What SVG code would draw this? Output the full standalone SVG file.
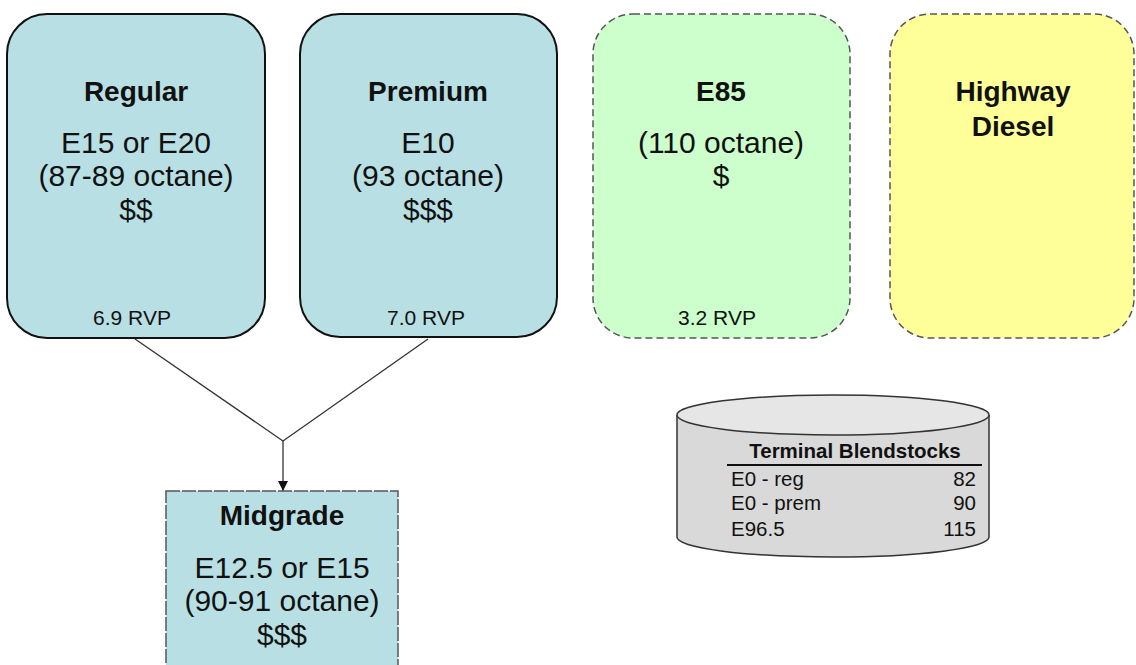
<svg xmlns="http://www.w3.org/2000/svg" width="1136" height="665" viewBox="0 0 1136 665">
<defs>
<style>
.t{font-family:"Liberation Sans",Arial,sans-serif;fill:#111;text-anchor:middle}
.h{font-size:28px;font-weight:bold}
.b{font-size:30px}
.s{font-size:21px}
.blue{fill:#b8e0e4;stroke:#111;stroke-width:2}
.dash{stroke:#555;stroke-width:1.5;stroke-dasharray:7 4}
.c{fill:none;stroke:#333;stroke-width:1.3}
.tb{font-family:"Liberation Sans",Arial,sans-serif;font-size:20.5px;fill:#111}
</style>
<marker id="arr" viewBox="0 0 10 10" refX="10" refY="5" markerWidth="10" markerHeight="10" markerUnits="userSpaceOnUse" orient="auto">
<path d="M0,0 L10,5 L0,10 Z" fill="#111"/>
</marker>
</defs>
<rect width="1136" height="665" fill="#fff"/>
<g id="connectors">
<polyline class="c" points="135,339 283,441 428,339"/>
<line class="c" x1="283" y1="441" x2="283" y2="491" marker-end="url(#arr)"/>
</g>
<g id="regular">
<rect class="blue" x="7" y="14" width="258" height="324" rx="40"/>
<text class="t h" x="136" y="101">Regular</text>
<text class="t b" x="136" y="153">E15 or E20</text>
<text class="t b" x="136" y="186">(87-89 octane)</text>
<text class="t b" x="136" y="220">$$</text>
<text class="t s" x="132" y="325">6.9 RVP</text>
</g>
<g id="premium">
<rect class="blue" x="300" y="14" width="257" height="323" rx="40"/>
<text class="t h" x="428" y="101">Premium</text>
<text class="t b" x="428" y="153">E10</text>
<text class="t b" x="428" y="186">(93 octane)</text>
<text class="t b" x="428" y="220">$$$</text>
<text class="t s" x="426" y="325">7.0 RVP</text>
</g>
<g id="e85">
<rect class="dash" fill="#ccffcc" x="593" y="14" width="257" height="324" rx="40"/>
<text class="t h" x="721" y="101">E85</text>
<text class="t b" x="721" y="153">(110 octane)</text>
<text class="t b" x="721" y="186">$</text>
<text class="t s" x="717" y="325">3.2 RVP</text>
</g>
<g id="highway-diesel">
<rect class="dash" fill="#ffff99" x="890" y="14" width="244" height="324" rx="40"/>
<text class="t h" x="1013" y="101">Highway</text>
<text class="t h" x="1013" y="136">Diesel</text>
</g>
<g id="midgrade">
<rect fill="#b8e0e4" stroke="#555" stroke-width="1.5" stroke-dasharray="14 2" x="166" y="491" width="232" height="190"/>
<text class="t h" x="282" y="525">Midgrade</text>
<text class="t b" x="282" y="578">E12.5 or E15</text>
<text class="t b" x="282" y="611">(90-91 octane)</text>
<text class="t b" x="282" y="645">$$$</text>
</g>
<g id="terminal-blendstocks">
<path d="M677,415 L677,537 A156,20 0 0 0 989,537 L989,415" fill="#d9d9d9" stroke="#333" stroke-width="1.5"/>
<ellipse cx="833" cy="415" rx="156" ry="20" fill="#e6e6e6" stroke="#333" stroke-width="1.5"/>
<text class="tb" x="855" y="458" text-anchor="middle" font-weight="bold">Terminal Blendstocks</text>
<line x1="727" y1="465" x2="982" y2="465" stroke="#111" stroke-width="2"/>
<text class="tb" x="731" y="486">E0 - reg</text>
<text class="tb" x="976" y="486" text-anchor="end">82</text>
<text class="tb" x="731" y="510">E0 - prem</text>
<text class="tb" x="976" y="510" text-anchor="end">90</text>
<text class="tb" x="731" y="536">E96.5</text>
<text class="tb" x="976" y="536" text-anchor="end">115</text>
</g>
</svg>
